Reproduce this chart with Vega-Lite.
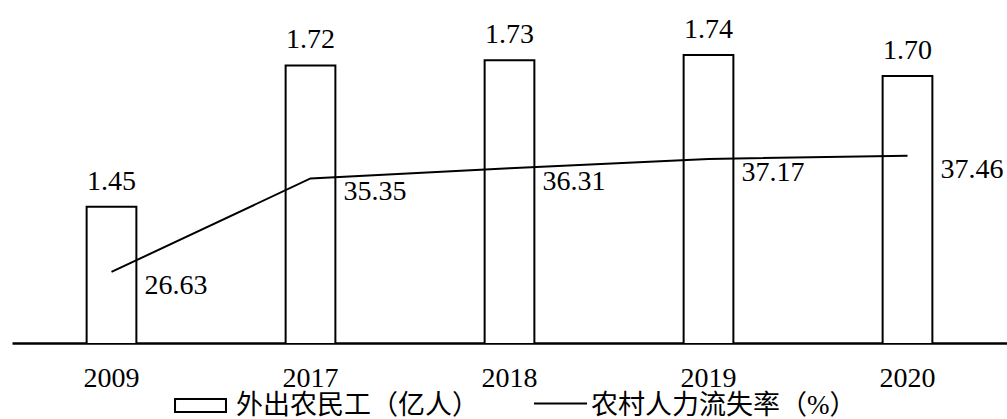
{
  "$schema": "https://vega.github.io/schema/vega-lite/v6.json",
  "width": 995,
  "height": 343,
  "autosize": "none",
  "padding": {"left": 12, "top": 0, "right": 0, "bottom": 76},
  "background": "white",
  "config": {
    "view": {"stroke": null},
    "font": "Liberation Serif"
  },
  "data": {
    "values": [
      {"year": "2009", "workers": 1.45, "rate": 26.63},
      {"year": "2017", "workers": 1.72, "rate": 35.35},
      {"year": "2018", "workers": 1.73, "rate": 36.31},
      {"year": "2019", "workers": 1.74, "rate": 37.17},
      {"year": "2020", "workers": 1.70, "rate": 37.46}
    ]
  },
  "encoding": {
    "x": {
      "field": "year",
      "type": "ordinal",
      "scale": {"paddingInner": 0.75, "paddingOuter": 0.375},
      "axis": {
        "title": null,
        "labelAngle": 0,
        "labelFont": "Liberation Serif",
        "labelFontSize": 28,
        "labelColor": "black",
        "labelBaseline": "alphabetic",
        "labelPadding": 43,
        "ticks": false,
        "tickSize": 0,
        "domainColor": "black",
        "domainWidth": 2.5
      }
    }
  },
  "layer": [
    {
      "layer": [
        {
          "mark": {"type": "bar", "stroke": "black", "strokeWidth": 2, "clip": true},
          "encoding": {
            "y": {
              "field": "workers",
              "type": "quantitative",
              "scale": {"domain": [1.19, 1.845], "zero": false, "nice": false},
              "axis": null
            },
            "fill": {
              "datum": "外出农民工（亿人）",
              "type": "nominal",
              "scale": {"range": ["white"]},
              "legend": {
                "title": null,
                "orient": "none",
                "legendX": 175,
                "legendY": 392,
                "padding": 0,
                "symbolType": "M-3.92,-1H3.92V1H-3.92Z",
                "symbolSize": 169,
                "symbolStrokeWidth": 2,
                "symbolStrokeColor": "black",
                "labelFont": "Liberation Serif, Noto Sans CJK SC",
                "labelFontSize": 27,
                "labelColor": "black",
                "labelLimit": 400,
                "labelOffset": 22,
                "encode": {
                  "symbols": {
                    "update": {
                      "stroke": {"value": "black"},
                      "strokeWidth": {"value": 2},
                      "fill": {"value": "white"},
                      "opacity": {"value": 1}
                    }
                  }
                }
              }
            }
          }
        },
        {
          "mark": {"type": "text", "baseline": "alphabetic", "dy": -17, "font": "Liberation Serif", "fontSize": 28, "color": "black"},
          "encoding": {
            "y": {"field": "workers", "type": "quantitative"},
            "text": {"field": "workers", "type": "quantitative", "format": ".2f"}
          }
        }
      ]
    },
    {
      "layer": [
        {
          "mark": {"type": "line", "strokeWidth": 2},
          "encoding": {
            "y": {
              "field": "rate",
              "type": "quantitative",
              "scale": {"domain": [20, 52], "zero": false, "nice": false},
              "axis": null
            },
            "stroke": {
              "datum": "农村人力流失率（%）",
              "type": "nominal",
              "scale": {"range": ["black"]},
              "legend": {
                "title": null,
                "orient": "none",
                "legendX": 535,
                "legendY": 392,
                "padding": 0,
                "symbolType": "M-4.08,-0.3H4.08",
                "symbolSize": 169,
                "symbolStrokeWidth": 2,
                "symbolStrokeColor": "black",
                "labelFont": "Liberation Serif, Noto Sans CJK SC",
                "labelFontSize": 27,
                "labelColor": "black",
                "labelLimit": 400,
                "labelOffset": 17
              }
            }
          }
        },
        {
          "mark": {"type": "text", "align": "left", "baseline": "alphabetic", "dx": 33, "dy": 22, "font": "Liberation Serif", "fontSize": 28, "color": "black"},
          "encoding": {
            "y": {"field": "rate", "type": "quantitative"},
            "text": {"field": "rate", "type": "quantitative", "format": ".2f"}
          }
        }
      ]
    }
  ],
  "resolve": {"scale": {"y": "independent"}}
}
